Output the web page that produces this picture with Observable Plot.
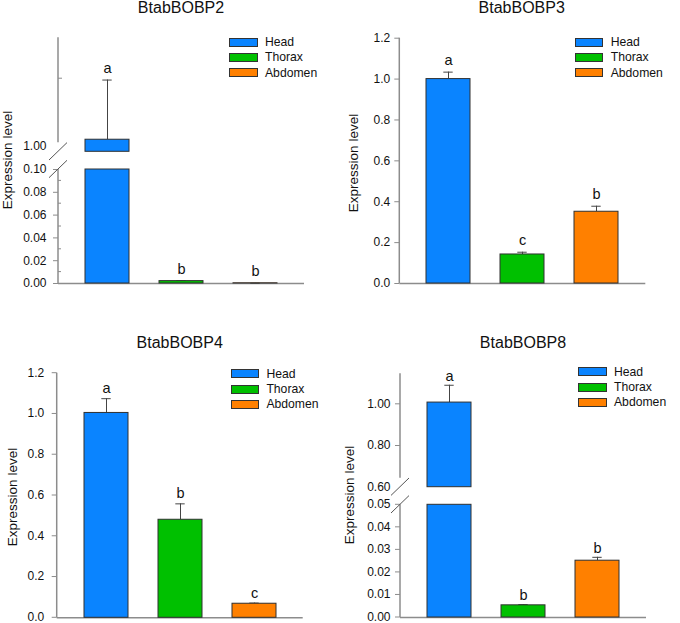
<!DOCTYPE html>
<html>
<head>
<meta charset="utf-8">
<script src="https://cdn.jsdelivr.net/npm/d3@7"></script>
<script src="https://cdn.jsdelivr.net/npm/@observablehq/plot@0.6"></script>
<style>
  body { margin: 0; background: #fff; font-family: "Liberation Sans", Arial, sans-serif; }
  #chart { position: relative; width: 680px; height: 623px; overflow: hidden; background: #fff; }
  .abs { position: absolute; }
  .title { font-size: 16px; line-height: 16px; white-space: nowrap; color: #111; transform: translateX(-50%); }
  .ylab { font-size: 13.5px; line-height: 14px; white-space: nowrap; color: #111; transform: translate(-50%, -50%) rotate(-90deg); }
  .leg { font-size: 12.2px; color: #111; }
  .leg .row { display: flex; align-items: center; height: 15.3px; }
  .leg .sw { width: 28.4px; height: 9px; border: 1px solid #333; box-sizing: border-box; margin-right: 7.3px; }
</style>
</head>
<body>
<div id="chart"></div>
<script>
// ---------- data ----------
const tissues = ["Head", "Thorax", "Abdomen"];
const colors = ["#0A84FF", "#00C000", "#FF8000"];
const genes = ["BtabBOBP2", "BtabBOBP3", "BtabBOBP4", "BtabBOBP8"];

const bobp2Mean = [1.09, 0.0021, 0.0002];
const bobp2Err = [0.89, 0.0002, 0.0001];
const bobp2Letters = ["a", "b", "b"];

const bobp3Mean = [1.0, 0.142, 0.351];
const bobp3Err = [0.034, 0.011, 0.027];
const bobp3Letters = ["a", "c", "b"];

const bobp4Mean = [1.005, 0.481, 0.069];
const bobp4Err = [0.070, 0.078, 0.003];
const bobp4Letters = ["a", "b", "c"];

const bobp8Mean = [1.006, 0.0054, 0.0252];
const bobp8Err = [0.083, 0.0003, 0.0015];
const bobp8Letters = ["a", "b", "b"];

// tick values / axis domains
const bobp2UpperDomain = [0.91, 2.61];
const bobp2UpperLabelTicks = [1.0];
const bobp2UpperMinorTicks = [2.0];
const bobp2LowerDomain = [0, 0.10];
const bobp2LowerTicks = [0, 0.02, 0.04, 0.06, 0.08, 0.10];
const bobp2LowerMinorTicks = [0.01, 0.03, 0.05, 0.07, 0.09];

const fullDomain = [0, 1.2];
const fullTicks = [0, 0.2, 0.4, 0.6, 0.8, 1.0, 1.2];

const bobp8UpperDomain = [0.60, 1.144];
const bobp8UpperTicks = [0.80, 1.00];
const bobp8UpperLabelTicks = [0.60];
const bobp8LowerDomain = [0, 0.05];
const bobp8LowerTicks = [0, 0.01, 0.02, 0.03, 0.04, 0.05];

const yLabel = "Expression level";

// ---------- helpers ----------
function rowsOf(mean, err, letters) {
  return tissues.map((t, i) => ({tissue: t, mean: mean[i], top: mean[i] + err[i], letter: letters[i]}));
}

const AXIS = "#8c8c8c";
const INK = "#111";

function decor(seg) {
  return (index, scales, values, dims) => {
    const g = d3.create("svg:g").attr("fill", "none");
    const x0 = dims.marginLeft;
    const yTop = scales.y(seg.domain[1]);
    const yBot = scales.y(seg.domain[0]);
    const lineBot = seg.breakBottom ? yBot - 9 : yBot;
    g.append("line").attr("x1", x0).attr("x2", x0).attr("y1", yTop).attr("y2", lineBot)
      .attr("stroke", AXIS).attr("stroke-width", 1.5);
    for (const v of (seg.inTicks || [])) {
      const yy = scales.y(v);
      g.append("line").attr("x1", x0).attr("x2", x0 + seg.inTickSize).attr("y1", yy).attr("y2", yy)
        .attr("stroke", AXIS).attr("stroke-width", 1);
    }
    const brk = (yc) => g.append("line").attr("x1", x0 - 9).attr("x2", x0 + 9)
      .attr("y1", yc + 8.7).attr("y2", yc - 8.7).attr("stroke", "#555").attr("stroke-width", 1);
    if (seg.breakBottom) brk(yBot);
    if (seg.breakTop) brk(yTop);
    return g.node();
  };
}

function segmentPlot(panel, seg) {
  const [lo, hi] = seg.domain;
  const rows = panel.rows;
  const barRows = rows.filter(d => d.mean > lo);
  const errRows = rows.filter(d => d.top > lo && d.top <= hi + 1e-9);
  const marks = [];
  if (seg.baseline) marks.push(Plot.ruleY([lo], {stroke: AXIS, strokeWidth: 1.5}));
  marks.push(Plot.ruleX(errRows, {x: "tissue", y1: d => Math.max(d.mean, lo), y2: "top", stroke: "#444", strokeWidth: 1}));
  marks.push(Plot.tickY(errRows, {x: "tissue", y: "top", stroke: "#444", strokeWidth: 1, insetLeft: 17.3, insetRight: 17.3}));
  marks.push(Plot.barY(barRows, {x: "tissue", y1: () => lo, y2: d => Math.min(d.mean, hi), fill: "tissue", stroke: "#303030", strokeWidth: 1}));
  marks.push(Plot.text(errRows, {x: "tissue", y: "top", text: "letter", dy: panel.dy, fontSize: 14.5, fill: INK}));
  for (const ax of seg.axes) {
    marks.push(Plot.axisY({
      ticks: ax.ticks, tickFormat: d3.format(ax.format), tickSize: ax.tickSize,
      tickPadding: panel.tickPad + (5 - ax.tickSize), label: null,
      stroke: AXIS, fill: INK, fontSize: 12, dy: seg.labelDy || 0
    }));
  }
  marks.push(decor(seg));
  const mL = panel.axisX - panel.left;
  const svg = Plot.plot({
    width: 340,
    height: seg.height,
    marginLeft: mL,
    marginRight: 340 - mL - 246,
    marginTop: seg.mT,
    marginBottom: seg.mB,
    x: {type: "band", domain: tissues, paddingInner: 0.4, paddingOuter: 0.35, axis: null},
    y: {domain: seg.domain},
    color: {domain: tissues, range: colors},
    style: {
      position: "absolute", left: panel.left + "px", top: seg.top + "px",
      background: "transparent", overflow: "visible",
      fontFamily: "'Liberation Sans', Arial, sans-serif", fontSize: "12px", color: INK
    },
    marks
  });
  return svg;
}

// ---------- panels ----------
const panels = [
  {
    gene: genes[0], rows: rowsOf(bobp2Mean, bobp2Err, bobp2Letters), left: 0, axisX: 58, tickPad: 7, dy: -12,
    title: [181, 0], ylab: [7.5, 160], legend: [229.3, 37.7],
    segments: [
      {top: 0, height: 160, mT: 37.3, mB: 8.7, domain: bobp2UpperDomain, breakBottom: true,
       inTicks: bobp2UpperMinorTicks, inTickSize: 4,
       axes: [{ticks: bobp2UpperLabelTicks, format: ".2f", tickSize: 0}]},
      {top: 150, height: 150, mT: 19, mB: 17, domain: bobp2LowerDomain, breakTop: true, baseline: true,
       inTicks: bobp2LowerMinorTicks, inTickSize: 3,
       axes: [{ticks: bobp2LowerTicks, format: ".2f", tickSize: 5}]}
    ]
  },
  {
    gene: genes[1], rows: rowsOf(bobp3Mean, bobp3Err, bobp3Letters), left: 340, axisX: 399.3, tickPad: 4.5, dy: -12,
    title: [521.7, 0], ylab: [354, 163], legend: [575, 37.7],
    segments: [
      {top: 0, height: 300, mT: 37.7, mB: 17, domain: fullDomain, baseline: true,
       axes: [{ticks: fullTicks, format: ".1f", tickSize: 5}]}
    ]
  },
  {
    gene: genes[2], rows: rowsOf(bobp4Mean, bobp4Err, bobp4Letters), left: 0, axisX: 56.7, tickPad: 8, dy: -10,
    title: [179.7, 334.5], ylab: [13, 497], legend: [230.7, 369.3],
    segments: [
      {top: 310, height: 313, mT: 62.7, mB: 5.7, domain: fullDomain, baseline: true, labelDy: -0.5,
       axes: [{ticks: fullTicks, format: ".1f", tickSize: 5}]}
    ]
  },
  {
    gene: genes[3], rows: rowsOf(bobp8Mean, bobp8Err, bobp8Letters), left: 340, axisX: 400, tickPad: 5, dy: -9,
    title: [523, 334.5], ylab: [349.5, 495], legend: [578.3, 367.3],
    segments: [
      {top: 330, height: 170, mT: 43.3, mB: 13.3, domain: bobp8UpperDomain, breakBottom: true,
       axes: [{ticks: bobp8UpperTicks, format: ".2f", tickSize: 5},
              {ticks: bobp8UpperLabelTicks, format: ".2f", tickSize: 0}]},
      {top: 480, height: 143, mT: 24.3, mB: 6, domain: bobp8LowerDomain, breakTop: true, baseline: true, labelDy: -0.5,
       axes: [{ticks: bobp8LowerTicks, format: ".2f", tickSize: 5}]}
    ]
  }
];

const chart = document.getElementById("chart");

for (const p of panels) {
  for (const seg of p.segments) chart.appendChild(segmentPlot(p, seg));

  const t = document.createElement("div");
  t.className = "abs title";
  t.style.left = p.title[0] + "px";
  t.style.top = p.title[1] + "px";
  t.textContent = p.gene;
  chart.appendChild(t);

  const yl = document.createElement("div");
  yl.className = "abs ylab";
  yl.style.left = p.ylab[0] + "px";
  yl.style.top = p.ylab[1] + "px";
  yl.textContent = yLabel;
  chart.appendChild(yl);

  const lg = document.createElement("div");
  lg.className = "abs leg";
  lg.style.left = p.legend[0] + "px";
  lg.style.top = (p.legend[1] - 3.15) + "px";
  tissues.forEach((name, i) => {
    const row = document.createElement("div");
    row.className = "row";
    const sw = document.createElement("div");
    sw.className = "sw";
    sw.style.background = colors[i];
    const tx = document.createElement("span");
    tx.textContent = name;
    row.appendChild(sw);
    row.appendChild(tx);
    lg.appendChild(row);
  });
  chart.appendChild(lg);
}
</script>
</body>
</html>
